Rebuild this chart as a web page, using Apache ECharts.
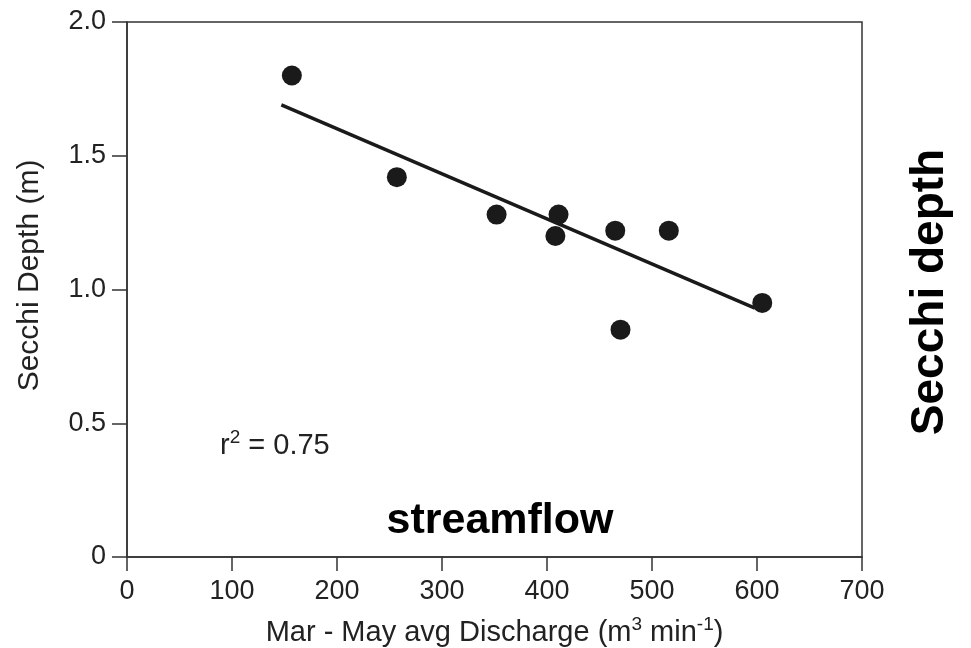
<!DOCTYPE html>
<html>
<head>
<meta charset="utf-8">
<script src="https://cdn.jsdelivr.net/npm/echarts@6/dist/echarts.min.js"></script>
<style>html,body{margin:0;padding:0;background:#fff}#c{width:971px;height:648px}</style>
</head>
<body>
<div id="c"></div>
<script>
// Data
var discharge = [157, 257, 352, 411, 408, 465, 516, 470, 605];
var secchi    = [1.80, 1.42, 1.28, 1.28, 1.20, 1.22, 1.22, 0.85, 0.95];
var fitX = [147, 598];
var fitY = [1.69, 0.93];
var xTicks = [0, 100, 200, 300, 400, 500, 600, 700];
var yTicks = [0, 0.5, 1.0, 1.5, 2.0];

var font = '"Liberation Sans", Arial, sans-serif';
var chart = echarts.init(document.getElementById('c'), null, {renderer: 'canvas'});
var pts = discharge.map(function (d, i) { return [d, secchi[i]]; });
var fit = fitX.map(function (d, i) { return [d, fitY[i]]; });
var supStyle = {fontFamily: font, fontSize: 19, color: '#222', verticalAlign: 'middle', padding: [0, 0, 17, 0]};

chart.setOption({
  backgroundColor: '#fff',
  animation: false,
  grid: {left: 127, top: 22, right: 109, bottom: 91, outerBoundsMode: 'none', containLabel: false,
    show: true, borderColor: '#333', borderWidth: 1.5, backgroundColor: 'transparent'},
  xAxis: {
    type: 'value', min: xTicks[0], max: xTicks[xTicks.length - 1], interval: 100,
    name: 'Mar - May avg Discharge (m{sup|3} min{sup|-1})',
    nameLocation: 'middle', nameGap: 58,
    nameTextStyle: {fontFamily: font, fontSize: 29, color: '#222', rich: {sup: supStyle}},
    axisLine: {show: true, lineStyle: {color: '#333', width: 1.5}},
    axisTick: {show: true, inside: false, length: 14, lineStyle: {color: '#333', width: 1.5}},
    axisLabel: {fontFamily: font, fontSize: 27, color: '#222', margin: 21},
    splitLine: {show: false}
  },
  yAxis: {
    type: 'value', min: yTicks[0], max: yTicks[yTicks.length - 1], interval: 0.5,
    name: 'Secchi Depth (m)', nameLocation: 'middle', nameGap: 82,
    nameTextStyle: {fontFamily: font, fontSize: 30, color: '#222', padding: [0, 0, 0, 28]},
    axisLine: {show: true, lineStyle: {color: '#333', width: 1.5}},
    axisTick: {show: true, inside: false, length: 15, lineStyle: {color: '#333', width: 1.5}},
    axisLabel: {fontFamily: font, fontSize: 27, color: '#222', margin: 21,
      formatter: function (v) { return v === 0 ? '0' : v.toFixed(1); }},
    splitLine: {show: false}
  },
  series: [
    {type: 'line', data: fit, symbol: 'none', lineStyle: {color: '#1a1a1a', width: 3.5}, z: 2},
    {type: 'scatter', data: pts, symbol: 'circle', symbolSize: 20, itemStyle: {color: '#1a1a1a', opacity: 1}, z: 3}
  ],
  graphic: [
    {type: 'text', left: 220, top: 428, style: {
      text: 'r{sup|2} = 0.75', font: '29px ' + font, fill: '#222',
      rich: {sup: {fontSize: 19, fontFamily: font, fill: '#222', verticalAlign: 'middle', padding: [0, 0, 17, 0]}}}},
    {type: 'text', x: 500, y: 521, style: {
      text: 'streamflow', font: 'bold 43px ' + font, fill: '#000', align: 'center', verticalAlign: 'middle'}},
    {type: 'text', x: 930, y: 292, rotation: Math.PI / 2, style: {
      text: 'Secchi depth', font: 'bold 46px ' + font, fill: '#000', align: 'center', verticalAlign: 'middle'}}
  ]
});
</script>
</body>
</html>
